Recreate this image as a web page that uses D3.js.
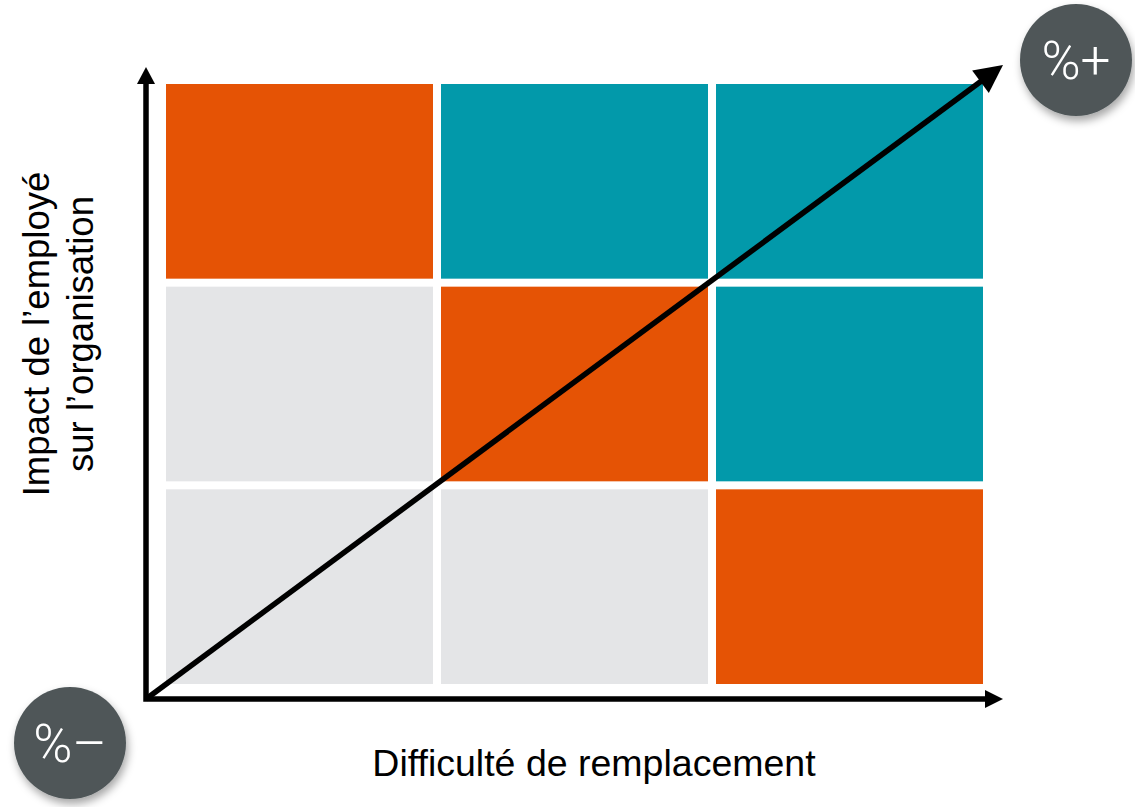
<!DOCTYPE html>
<html>
<head>
<meta charset="utf-8">
<script src="https://cdn.jsdelivr.net/npm/d3@7"></script>
<style>
  html, body { margin: 0; padding: 0; background: #ffffff; }
  svg { display: block; }
</style>
</head>
<body>
<svg id="chart" width="1135" height="807"></svg>
<script>
// ---- data ----
const difficultyLevels = ["faible", "moyenne", "élevée"];      // x categories (left → right)
const impactLevels = ["faible", "moyen", "élevé"];             // y categories (bottom → top)
// one entry per cell: [difficulty, impact, group]
const cellDifficulty = ["faible", "moyenne", "élevée", "faible", "moyenne", "élevée", "faible", "moyenne", "élevée"];
const cellImpact     = ["élevé", "élevé", "élevé", "moyen", "moyen", "moyen", "faible", "faible", "faible"];
const cellGroup      = ["clé", "critique", "critique", "standard", "clé", "critique", "standard", "standard", "clé"];
const groupNames  = ["standard", "clé", "critique"];
const groupColors = ["#E4E5E7", "#E55305", "#0299AA"];
const xTitle = "Difficulté de remplacement";
const yTitleLines = ["Impact de l’employé", "sur l’organisation"];
const lowLabel = "%–";
const highLabel = "%+";

const cells = cellGroup.map((g, i) => ({ d: cellDifficulty[i], imp: cellImpact[i], g }));

// ---- layout ----
const svg = d3.select("#chart");
const grid = { left: 166, right: 983, top: 84, bottom: 684, gap: 8 };
const origin = { x: 146, y: 699 };
const xTip = { x: 1003, y: 699 };
const yTip = { x: 146, y: 67 };
const diagTip = { x: 1003, y: 65 };

const x = d3.scaleBand()
  .domain(difficultyLevels)
  .range([grid.left, grid.right])
  .paddingInner(grid.gap / ((grid.right - grid.left + grid.gap) / difficultyLevels.length))
  .paddingOuter(0);
const y = d3.scaleBand()
  .domain(impactLevels)
  .range([grid.bottom, grid.top])
  .paddingInner(grid.gap / ((grid.bottom - grid.top + grid.gap) / impactLevels.length))
  .paddingOuter(0);
const color = d3.scaleOrdinal().domain(groupNames).range(groupColors);

// shadow filter
const defs = svg.append("defs");
const f = defs.append("filter").attr("id", "shadow")
  .attr("x", "-40%").attr("y", "-40%").attr("width", "180%").attr("height", "180%");
f.append("feDropShadow").attr("dx", 2).attr("dy", 5).attr("stdDeviation", 4)
  .attr("flood-color", "#000").attr("flood-opacity", 0.35);

// cells
svg.append("g").selectAll("rect").data(cells).join("rect")
  .attr("x", d => x(d.d))
  .attr("y", d => y(d.imp))
  .attr("width", x.bandwidth())
  .attr("height", y.bandwidth())
  .attr("fill", d => color(d.g));

// arrowhead helper
function arrowHead(g, from, tip, len, width) {
  const dx = tip.x - from.x, dy = tip.y - from.y;
  const L = Math.hypot(dx, dy);
  const ux = dx / L, uy = dy / L;
  const bx = tip.x - ux * len, by = tip.y - uy * len;
  const px = -uy, py = ux;
  g.append("path")
    .attr("d", d3.line()([[tip.x, tip.y], [bx + px * width / 2, by + py * width / 2], [bx - px * width / 2, by - py * width / 2]]) + "Z")
    .attr("fill", "#000");
  return { x: bx + ux * 2, y: by + uy * 2 };
}

const axes = svg.append("g");
const sw = 5.5;
// axes
const xEnd = { x: xTip.x - 16, y: xTip.y };
const yEnd = { x: yTip.x, y: yTip.y + 16 };
axes.append("path")
  .attr("d", d3.line()([[yEnd.x, yEnd.y], [origin.x, origin.y], [xEnd.x, xEnd.y]]))
  .attr("fill", "none").attr("stroke", "#000").attr("stroke-width", sw)
  .attr("stroke-linejoin", "miter");
arrowHead(axes, origin, xTip, 18, 18);
arrowHead(axes, origin, yTip, 17, 18);

// diagonal
const dEnd = arrowHead(axes, origin, diagTip, 28, 28);
axes.append("path")
  .attr("d", d3.line()([[origin.x, origin.y], [dEnd.x, dEnd.y]]))
  .attr("fill", "none").attr("stroke", "#000").attr("stroke-width", sw);

// titles
svg.append("text")
  .attr("x", 594).attr("y", 776)
  .attr("text-anchor", "middle")
  .attr("font-family", "Liberation Sans, Arial, sans-serif")
  .attr("font-size", 37.5)
  .attr("fill", "#000")
  .text(xTitle);

const yt = svg.append("g").attr("transform", "translate(0,334)");
yTitleLines.forEach((t, i) => {
  yt.append("text")
    .attr("transform", `translate(${49 + i * 44},0) rotate(-90)`)
    .attr("text-anchor", "middle")
    .attr("font-family", "Liberation Sans, Arial, sans-serif")
    .attr("font-size", 36.5)
    .attr("fill", "#000")
    .text(t);
});

// badges
const badges = [
  { cx: 70, cy: 743, label: lowLabel },
  { cx: 1076, cy: 60, label: highLabel }
];
const b = svg.append("g").selectAll("g").data(badges).join("g")
  .attr("transform", d => `translate(${d.cx},${d.cy})`);
b.append("circle").attr("r", 56).attr("fill", "#4F5759").attr("filter", "url(#shadow)");
b.append("text")
  .attr("text-anchor", "middle")
  .attr("dy", "0.36em")
  .attr("font-family", "Roboto, Open Sans, sans-serif")
  .attr("font-weight", 300)
  .attr("font-size", 53)
  .attr("fill", "#ffffff")
  .text(d => d.label);
</script>
</body>
</html>
